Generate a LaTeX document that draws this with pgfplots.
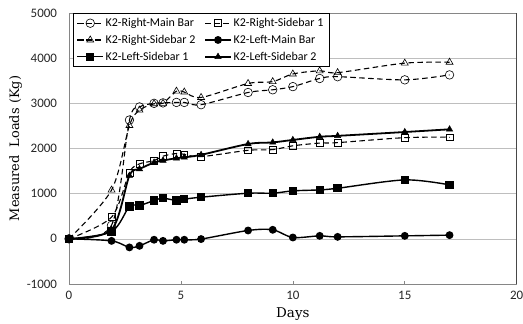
\documentclass[border=0pt]{standalone}
\usepackage{fontspec}
\setmainfont{Carlito}
\newfontfamily\labfont{DejaVu Serif}
\usepackage{pgfplots}
\pgfplotsset{compat=1.18}
\definecolor{gridc}{HTML}{BEBEBE}
\definecolor{framec}{HTML}{868686}
\begin{document}
\begin{tikzpicture}
\path[use as bounding box] (-69bp,-40bp) rectangle ++(523bp,324bp);
\begin{axis}[
  name=ax,
  at={(0,0)}, anchor=south west,
  scale only axis,
  width=447.7bp, height=271bp,
  xmin=0, xmax=20, ymin=-1000, ymax=5000,
  xtick={0,5,10,15,20},
  ytick={-1000,0,1000,2000,3000,4000,5000},
  tick pos=left,
  xtick align=inside,
  major tick length=3bp,
  ytick style={draw=none},
  xtick style={framec, line width=0.6bp},
  ymajorgrids,
  grid style={gridc, line width=0.6bp},
  axis line style={framec, line width=0.8bp},
  /pgf/number format/assume math mode=true,
  /pgf/number format/.cd, 1000 sep={}, /pgfplots/.cd,
  ticklabel style={font=\fontsize{13}{15}\selectfont, text=black!85},
  yticklabel style={xshift=-8.5bp},
  xticklabel style={yshift=-3.4bp},
  xlabel={\labfont\fontsize{13.5}{15}\selectfont Days},
  ylabel={\labfont\fontsize{13}{15}\selectfont Measured\ \ Loads (Kg)},
  xlabel style={yshift=-1.5bp},
  ylabel style={yshift=-2bp},
  legend columns=2,
  legend cell align=left,
  legend style={at={(rel axis cs:0,1)}, xshift=4bp, anchor=north west,
    draw=black, line width=0.6bp, font=\fontsize{12}{14}\selectfont,
    inner xsep=3.5bp, inner ysep=3bp, row sep=3bp,
    /tikz/every even column/.append style={column sep=7bp}},
  legend image code/.code={\draw[mark repeat=2,mark phase=2] plot coordinates {(0cm,0cm)(0.45cm,0cm)(0.9cm,0cm)};},
]
% K2-Right-Main Bar
\addplot[black, line width=1.1bp, dash pattern=on 5.5bp off 3.5bp, smooth, tension=0.5,
  mark=o, mark size=4.3bp, mark options={solid, fill=white, line width=0.6bp}] coordinates {
(0,0) (1.9,300) (2.7,2630) (3.15,2920) (3.8,3000) (4.2,3010) (4.8,3020) (5.15,3020) (5.9,2970)
(8,3240) (9.1,3300) (10,3370) (11.2,3550) (12,3590) (15,3520) (17,3630)};
\addlegendentry{K2-Right-Main Bar}
% K2-Right-Sidebar 1
\addplot[black, line width=1.1bp, dash pattern=on 5.5bp off 3.5bp, smooth, tension=0.5,
  mark=square, mark size=3.4bp, mark options={solid, fill=white, line width=0.6bp}] coordinates {
(0,0) (1.9,480) (2.7,1470) (3.15,1660) (3.8,1730) (4.2,1830) (4.8,1890) (5.15,1870) (5.9,1820)
(8,1960) (9.1,1975) (10,2060) (11.2,2120) (12,2130) (15,2240) (17,2250)};
\addlegendentry{K2-Right-Sidebar 1}
% K2-Right-Sidebar 2
\addplot[black, line width=1.1bp, dash pattern=on 5.5bp off 3.5bp, smooth, tension=0.5,
  mark=triangle, mark size=4bp, mark options={solid, fill=white, line width=0.6bp}] coordinates {
(0,0) (1.9,1080) (2.7,2510) (3.15,2850) (3.8,2990) (4.2,3000) (4.8,3270) (5.15,3250) (5.9,3130)
(8,3440) (9.1,3480) (10,3650) (11.2,3720) (12,3680) (15,3890) (17,3910)};
\addlegendentry{K2-Right-Sidebar 2}
% K2-Left-Main Bar
\addplot[black, line width=1.4bp, smooth, tension=0.5,
  mark=*, mark size=3.2bp, mark options={solid, fill=black}] coordinates {
(0,0) (1.9,-45) (2.7,-190) (3.15,-155) (3.8,-20) (4.2,-45) (4.8,-20) (5.15,-20) (5.9,-5)
(8,185) (9.1,200) (10,30) (11.2,66) (12,44) (15,66) (17,82)};
\addlegendentry{K2-Left-Main Bar}
% K2-Left-Sidebar 1
\addplot[black, line width=1.4bp, smooth, tension=0.5,
  mark=square*, mark size=3.5bp, mark options={solid, fill=black}] coordinates {
(0,0) (1.9,160) (2.7,715) (3.15,737) (3.8,848) (4.2,900) (4.8,848) (5.15,878) (5.9,922)
(8,1010) (9.1,1010) (10,1062) (11.2,1084) (12,1120) (15,1305) (17,1195)};
\addlegendentry{K2-Left-Sidebar 1}
% K2-Left-Sidebar 2
\addplot[black, line width=1.8bp, smooth, tension=0.5,
  mark=triangle*, mark size=3.6bp, mark options={solid, fill=black, line width=0.5bp}] coordinates {
(0,0) (1.9,200) (2.7,1400) (3.15,1545) (3.8,1690) (4.2,1735) (4.8,1785) (5.15,1805) (5.9,1860)
(8,2100) (9.1,2135) (10,2190) (11.2,2260) (12,2280) (15,2365) (17,2425)};
\addlegendentry{K2-Left-Sidebar 2}
\draw[black!85, line width=1bp] (rel axis cs:1,0) -- (rel axis cs:1,1);
\end{axis}
\end{tikzpicture}
\end{document}
